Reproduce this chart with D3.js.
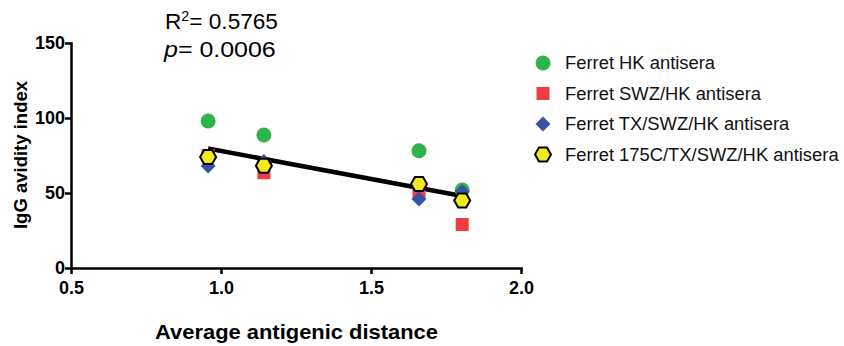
<!DOCTYPE html>
<html>
<head>
<meta charset="utf-8">
<script src="https://cdn.jsdelivr.net/npm/d3@7"></script>
<style>
  html, body { margin: 0; padding: 0; background: #fff; }
  svg { display: block; font-family: Arial, "Liberation Sans", Helvetica, sans-serif; }
</style>
</head>
<body>
<svg id="chart" width="844" height="346"></svg>
<script>
// ---- data ----
const xValues = [0.957, 1.143, 1.66, 1.804];
const seriesNames = ["Ferret HK antisera", "Ferret SWZ/HK antisera", "Ferret TX/SWZ/HK antisera", "Ferret 175C/TX/SWZ/HK antisera"];
const hkValues = [98, 88.7, 78.2, 52];
const swzValues = [75, 63.5, 51, 29];
const txValues = [68, 71, 46, 51];
const c175Values = [74, 68.2, 56, 45];
const xTicks = [0.5, 1.0, 1.5, 2.0];
const yTicks = [0, 50, 100, 150];
const statsR2 = "0.5765";
const statsP = "0.0006";

const svg = d3.select("#chart");
const x = d3.scaleLinear().domain([0.5, 2.0]).range([71, 521]);
const y = d3.scaleLinear().domain([0, 150]).range([268, 43]);

const colors = ["#2fb34b", "#ee3e44", "#3852a3", "#f4e91a"];
const allSeries = [hkValues, swzValues, txValues, c175Values];

// axes
const axStroke = 2.5;
const xAxis = svg.append("g").attr("transform", "translate(0,268)")
  .call(d3.axisBottom(x).tickValues(xTicks).tickFormat(d3.format(".1f")).tickSize(6).tickSizeOuter(0));
const yAxis = svg.append("g").attr("transform", "translate(71,0)")
  .call(d3.axisLeft(y).tickValues(yTicks).tickFormat(d3.format("d")).tickSize(6).tickSizeOuter(0));
[xAxis, yAxis].forEach(g => {
  g.select(".domain").attr("stroke", "#000").attr("stroke-width", axStroke).attr("stroke-linecap", "square");
  g.selectAll(".tick line").attr("stroke", "#000").attr("stroke-width", axStroke);
  g.selectAll(".tick text").attr("fill", "#000").attr("font-size", 18).attr("font-weight", "bold")
    .attr("font-family", "Arial, 'Liberation Sans', sans-serif");
});
xAxis.selectAll(".tick text").attr("dy", null).attr("y", 26);
yAxis.selectAll(".tick text").attr("x", -6).attr("dy", "0.3em");

// regression line (least squares over all points)
const pts = [];
allSeries.forEach(s => s.forEach((v, i) => pts.push([xValues[i], v])));
const mx = d3.mean(pts, d => d[0]), my = d3.mean(pts, d => d[1]);
const slope = d3.sum(pts, d => (d[0] - mx) * (d[1] - my)) / d3.sum(pts, d => (d[0] - mx) ** 2);
const icpt = my - slope * mx;
const x0 = d3.min(xValues), x1 = d3.max(xValues);
svg.append("line")
  .attr("x1", x(x0)).attr("y1", y(icpt + slope * x0))
  .attr("x2", x(x1)).attr("y2", y(icpt + slope * x1))
  .attr("stroke", "#000").attr("stroke-width", 4.5);

// marker shapes
function hexPath(w, h) {
  const a = w / 2, b = h / 2, c = w / 4;
  return `M${-a},0 L${-c},${-b} L${c},${-b} L${a},0 L${c},${b} L${-c},${b} Z`;
}
function drawMarker(g, k) {
  if (k === 0) g.append("circle").attr("r", 7.5).attr("fill", colors[0]);
  else if (k === 1) g.append("rect").attr("x", -6.5).attr("y", -6.5).attr("width", 13).attr("height", 13).attr("fill", colors[1]);
  else if (k === 2) g.append("path").attr("d", "M0,-7.5 L7.5,0 L0,7.5 L-7.5,0 Z").attr("fill", colors[2]);
  else g.append("path").attr("d", hexPath(16, 14)).attr("fill", colors[3]).attr("stroke", "#000").attr("stroke-width", 2);
}

// points: draw series in order
allSeries.forEach((s, k) => {
  s.forEach((v, i) => {
    const g = svg.append("g").attr("transform", `translate(${x(xValues[i])},${y(v)})`);
    drawMarker(g, k);
  });
});

// helper for horizontally widened text
function wideText(px, py) {
  const g = svg.append("g").attr("data-x", px).attr("data-y", py).attr("transform", `translate(${px},${py})`);
  return g.append("text");
}
function fitWidth(textSel, w) {
  const g = d3.select(textSel.node().parentNode);
  const bw = textSel.node().getBBox().width;
  const s = w / bw;
  g.attr("transform", `translate(${g.attr("data-x")},${g.attr("data-y")}) scale(${s},1)`);
  return s;
}

// axis titles
const xt = wideText(296.5, 339).attr("text-anchor", "middle")
  .attr("font-size", 20).attr("font-weight", "bold").text("Average antigenic distance");
fitWidth(xt, 283);
svg.append("text").attr("transform", "translate(27,155) rotate(-90)").attr("text-anchor", "middle")
  .attr("font-size", 18.5).attr("font-weight", "bold").text("IgG avidity index");

// stats annotation
const t1 = wideText(165, 29).attr("font-size", 22);
t1.append("tspan").text("R");
t1.append("tspan").attr("font-size", 14).attr("dy", -8.5).text("2");
t1.append("tspan").attr("dy", 8.5).text("= " + statsR2);
fitWidth(t1, 113);
const t2 = wideText(164, 57).attr("font-size", 22);
t2.append("tspan").attr("font-style", "italic").text("p");
t2.append("tspan").text("= " + statsP);
fitWidth(t2, 113);

// legend
const legY = [63, 93.5, 124, 154.5];
const legTexts = seriesNames.map((name, k) => {
  const g = svg.append("g").attr("transform", `translate(543,${legY[k]})`);
  drawMarker(g, k);
  return wideText(565, legY[k]).attr("dy", "0.36em")
    .attr("font-size", 17.5).attr("fill", "#111").text(name);
});
const sLeg = fitWidth(legTexts[3], 274);
legTexts.forEach((t, k) => d3.select(t.node().parentNode)
  .attr("transform", `translate(565,${legY[k]}) scale(${sLeg},1)`));
</script>
</body>
</html>
